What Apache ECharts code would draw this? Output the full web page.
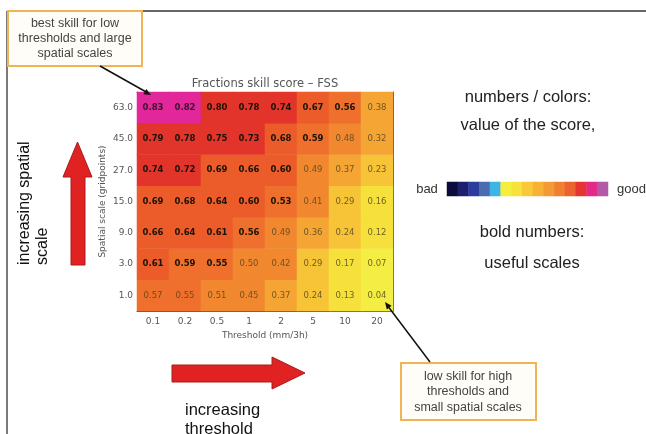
<!DOCTYPE html>
<html>
<head>
<meta charset="utf-8">
<script src="https://cdn.jsdelivr.net/npm/echarts@6/dist/echarts.min.js"></script>
<style>html,body{margin:0;padding:0;background:#fff}#c{width:646px;height:434px}</style>
</head>
<body>
<div id="c"></div>
<script>
// ---- data ----
const thresholds = ['0.1','0.2','0.5','1','2','5','10','20'];
const scales = ['1.0','3.0','9.0','15.0','27.0','45.0','63.0']; // bottom -> top
// FSS values, one row per spatial scale (same order as scales)
const fss_1  = [0.57,0.55,0.51,0.45,0.37,0.24,0.13,0.04];
const fss_3  = [0.61,0.59,0.55,0.50,0.42,0.29,0.17,0.07];
const fss_9  = [0.66,0.64,0.61,0.56,0.49,0.36,0.24,0.12];
const fss_15 = [0.69,0.68,0.64,0.60,0.53,0.41,0.29,0.16];
const fss_27 = [0.74,0.72,0.69,0.66,0.60,0.49,0.37,0.23];
const fss_45 = [0.79,0.78,0.75,0.73,0.68,0.59,0.48,0.32];
const fss_63 = [0.83,0.82,0.80,0.78,0.74,0.67,0.56,0.38];
const fssRows = [fss_1, fss_3, fss_9, fss_15, fss_27, fss_45, fss_63];
// number of useful (bold) thresholds per scale, counted from the lowest threshold
const usefulCount = [0, 3, 4, 5, 5, 6, 7];
// colour classes of the score
const classBounds = [0, 0.10, 0.20, 0.30, 0.40, 0.52, 0.60, 0.70, 0.81, 1.0];
const classColors = ['#f4ee44','#f6e13c','#f7c437','#f5a534','#f1882f','#ee702c','#eb5c2a','#e3342b','#e2279a'];
// legend colour bar (bad -> good)
const barColors = ['#0c0c3c','#1c206c','#2c3c9c','#4c6cb0','#3cb4e4','#f6ee3e','#f7e23c','#f8ca3a','#f7b236','#f49a34','#f08030','#ec6230','#e63430','#e42a84','#b458a8'];

// ---- build ----
const heatData = [];
fssRows.forEach((row, yi) => {
  row.forEach((v, xi) => {
    const bold = xi < usefulCount[yi];
    heatData.push({
      value: [xi, yi, v],
      label: bold ? {fontWeight: 'bold', color: (v >= 0.81 ? '#3a1030' : '#1a1208')}
                  : {fontWeight: 'normal', color: 'rgba(80,66,30,0.8)'}
    });
  });
});
const pieces = classColors.map((c, i) => ({gte: classBounds[i], lt: classBounds[i+1], color: c}));
const barData = barColors.map((c, i) => ({value: [i, 0, i], itemStyle: {color: c}}));

const chart = echarts.init(document.getElementById('c'), null, {renderer: 'canvas'});
const axisCol = '#5a5440';
const sans = 'Liberation Sans';
const dv = 'DejaVu Sans';

function arrowHead(x1, y1, x2, y2, len, hw) {
  const dx = x2 - x1, dy = y2 - y1, L = Math.hypot(dx, dy);
  const ux = dx / L, uy = dy / L;
  const bx = x2 - ux * len, by = y2 - uy * len;
  return [[x2, y2], [bx - uy * hw, by + ux * hw], [bx + uy * hw, by - ux * hw]];
}

chart.setOption({
  animation: false,
  backgroundColor: '#fff',
  grid: [
    {left: 137, top: 92, width: 256, height: 219},
    {left: 447, top: 182, width: 161, height: 14}
  ],
  xAxis: [
    {type: 'category', gridIndex: 0, data: thresholds, position: 'bottom',
     axisLine: {show: true, lineStyle: {color: axisCol, width: 1}}, axisTick: {show: false},
     axisLabel: {fontSize: 9, color: '#555', margin: 6, fontFamily: dv},
     name: 'Threshold (mm/3h)', nameLocation: 'middle', nameGap: 17,
     nameTextStyle: {fontSize: 9, color: '#555', fontFamily: dv}},
    {type: 'category', gridIndex: 0, data: thresholds, position: 'top',
     axisLine: {show: true, lineStyle: {color: axisCol, width: 1}}, axisTick: {show: false}, axisLabel: {show: false}},
    {type: 'category', gridIndex: 1, data: barColors.map((c, i) => String(i)), show: false}
  ],
  yAxis: [
    {type: 'category', gridIndex: 0, data: scales,
     axisLine: {show: true, lineStyle: {color: axisCol, width: 1}}, axisTick: {show: false},
     axisLabel: {fontSize: 9, color: '#555', margin: 4, fontFamily: dv},
     name: 'Spatial scale (gridpoints)', nameLocation: 'middle', nameGap: 30, nameRotate: 90,
     nameTextStyle: {fontSize: 9, color: '#555', fontFamily: dv}},
    {type: 'category', gridIndex: 0, data: scales, position: 'right',
     axisLine: {show: true, lineStyle: {color: axisCol, width: 1}}, axisTick: {show: false}, axisLabel: {show: false}},
    {type: 'category', gridIndex: 1, data: ['bar'], show: false}
  ],
  visualMap: {
    type: 'piecewise', show: false, seriesIndex: 0, dimension: 2, pieces: pieces
  },
  series: [
    {type: 'heatmap', xAxisIndex: 0, yAxisIndex: 0, data: heatData,
     label: {show: true, fontSize: 8.5, fontFamily: dv, formatter: p => p.value[2].toFixed(2)},
     emphasis: {disabled: true}},
    {type: 'heatmap', xAxisIndex: 2, yAxisIndex: 2, data: barData,
     label: {show: false}, emphasis: {disabled: true}}
  ],
  graphic: [
    // frame
    {type: 'line', shape: {x1: 7, y1: 11, x2: 646, y2: 11}, style: {stroke: '#333', lineWidth: 1.5}},
    {type: 'line', shape: {x1: 7, y1: 11, x2: 7, y2: 434}, style: {stroke: '#7a7a7a', lineWidth: 2}},
    // title
    {type: 'text', x: 265, y: 84, style: {text: 'Fractions skill score \u2013 FSS', fontSize: 11.5, fontFamily: dv, fill: '#555', align: 'center', verticalAlign: 'middle'}},
    // top-left note
    {type: 'rect', shape: {x: 8, y: 11, width: 134, height: 55}, style: {fill: '#fffdf7', stroke: '#f0b456', lineWidth: 2}},
    {type: 'text', x: 75, y: 24, style: {text: 'best skill for low', fontSize: 12.5, fontFamily: sans, fill: '#444', align: 'center', verticalAlign: 'middle'}},
    {type: 'text', x: 75, y: 39, style: {text: 'thresholds and large', fontSize: 12.5, fontFamily: sans, fill: '#444', align: 'center', verticalAlign: 'middle'}},
    {type: 'text', x: 75, y: 53.5, style: {text: 'spatial scales', fontSize: 12.5, fontFamily: sans, fill: '#444', align: 'center', verticalAlign: 'middle'}},
    {type: 'line', shape: {x1: 100, y1: 66, x2: 148, y2: 93}, style: {stroke: '#111', lineWidth: 1.5}, z: 10},
    {type: 'polygon', shape: {points: arrowHead(100, 66, 151, 95, 7, 3)}, style: {fill: '#111'}, z: 10},
    // bottom-right note
    {type: 'rect', shape: {x: 401, y: 363, width: 135, height: 57}, style: {fill: '#fffdf7', stroke: '#f0b456', lineWidth: 2}},
    {type: 'text', x: 468, y: 377, style: {text: 'low skill for high', fontSize: 12.5, fontFamily: sans, fill: '#444', align: 'center', verticalAlign: 'middle'}},
    {type: 'text', x: 468, y: 392, style: {text: 'thresholds and', fontSize: 12.5, fontFamily: sans, fill: '#444', align: 'center', verticalAlign: 'middle'}},
    {type: 'text', x: 468, y: 407.5, style: {text: 'small spatial scales', fontSize: 12.5, fontFamily: sans, fill: '#444', align: 'center', verticalAlign: 'middle'}},
    {type: 'line', shape: {x1: 430, y1: 362, x2: 387, y2: 305}, style: {stroke: '#111', lineWidth: 1.5}, z: 10},
    {type: 'polygon', shape: {points: arrowHead(430, 362, 385, 302, 7, 3)}, style: {fill: '#111'}, z: 10},
    // big red arrows
    {type: 'polygon', shape: {points: [[71,265],[85,265],[85,177],[92,177],[77.5,142],[63,177],[71,177]]}, style: {fill: '#e02222', stroke: '#a81c1c', lineWidth: 1}},
    {type: 'polygon', shape: {points: [[172,365],[272,365],[272,357],[305,373],[272,389],[272,382],[172,382]]}, style: {fill: '#e02222', stroke: '#a81c1c', lineWidth: 1}},
    // axis descriptions
    {type: 'text', x: 25, y: 265, rotation: Math.PI / 2, style: {text: 'increasing spatial', fontSize: 16, fontFamily: sans, fill: '#111', align: 'left', verticalAlign: 'middle'}},
    {type: 'text', x: 43, y: 265, rotation: Math.PI / 2, style: {text: 'scale', fontSize: 16, fontFamily: sans, fill: '#111', align: 'left', verticalAlign: 'middle'}},
    {type: 'text', x: 185, y: 410, style: {text: 'increasing', fontSize: 16.5, fontFamily: sans, fill: '#111', align: 'left', verticalAlign: 'middle'}},
    {type: 'text', x: 185, y: 429, style: {text: 'threshold', fontSize: 16.5, fontFamily: sans, fill: '#111', align: 'left', verticalAlign: 'middle'}},
    // right-hand explanation
    {type: 'text', x: 528, y: 97, style: {text: 'numbers / colors:', fontSize: 16.5, fontFamily: sans, fill: '#222', align: 'center', verticalAlign: 'middle'}},
    {type: 'text', x: 528, y: 125, style: {text: 'value of the score,', fontSize: 16.5, fontFamily: sans, fill: '#222', align: 'center', verticalAlign: 'middle'}},
    {type: 'text', x: 427, y: 189, style: {text: 'bad', fontSize: 13, fontFamily: sans, fill: '#333', align: 'center', verticalAlign: 'middle'}},
    {type: 'text', x: 617, y: 189, style: {text: 'good', fontSize: 13, fontFamily: sans, fill: '#333', align: 'left', verticalAlign: 'middle'}},
    {type: 'text', x: 532, y: 232, style: {text: 'bold numbers:', fontSize: 16.5, fontFamily: sans, fill: '#222', align: 'center', verticalAlign: 'middle'}},
    {type: 'text', x: 532, y: 263, style: {text: 'useful scales', fontSize: 16.5, fontFamily: sans, fill: '#222', align: 'center', verticalAlign: 'middle'}}
  ]
});
</script>
</body>
</html>
